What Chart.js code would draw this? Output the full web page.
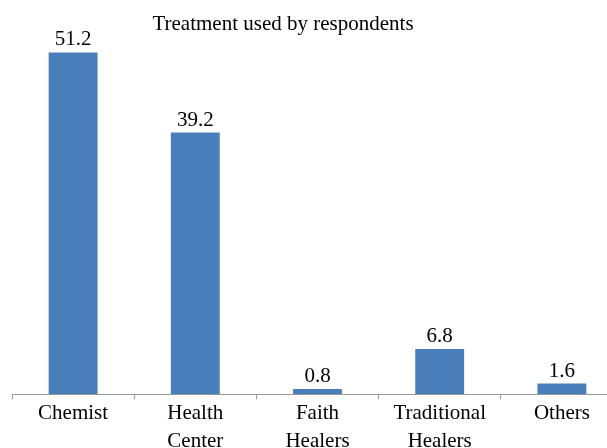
<!DOCTYPE html>
<html>
<head>
<meta charset="utf-8">
<script src="https://cdn.jsdelivr.net/npm/chart.js@4/dist/chart.umd.min.js"></script>
<style>
  html, body { margin: 0; padding: 0; background: #fff; overflow: hidden; }
  #wrap { position: relative; width: 624px; height: 456px; }
</style>
</head>
<body>
<div id="wrap"><canvas id="c"></canvas></div>
<script>
const titleText = 'Treatment used by respondents';
const categories = [['Chemist'], ['Health', 'Center'], ['Faith', 'Healers'], ['Traditional', 'Healers'], ['Others']];
const percentages = [51.2, 39.2, 0.8, 6.8, 1.6];

const serif = '"Liberation Serif", "Times New Roman", serif';
const barColor = '#4A7EBB';

// Value labels above each bar
const valueLabels = {
  id: 'valueLabels',
  afterDatasetsDraw(chart) {
    const ctx = chart.ctx;
    const meta = chart.getDatasetMeta(0);
    ctx.save();
    ctx.font = '21px ' + serif;
    ctx.fillStyle = '#000';
    ctx.textAlign = 'center';
    ctx.textBaseline = 'alphabetic';
    meta.data.forEach((bar, i) => {
      ctx.fillText(percentages[i].toFixed(1), bar.x, bar.y - 7);
    });
    ctx.restore();
  }
};

// Chart heading, placed left of centre
const heading = {
  id: 'heading',
  afterDraw(chart) {
    const ctx = chart.ctx;
    ctx.save();
    ctx.font = '21px ' + serif;
    ctx.fillStyle = '#000';
    ctx.textAlign = 'center';
    ctx.textBaseline = 'alphabetic';
    ctx.fillText(titleText, 283, 30);
    ctx.restore();
  }
};

new Chart(document.getElementById('c'), {
  type: 'bar',
  data: {
    labels: categories,
    datasets: [{
      data: percentages,
      backgroundColor: barColor,
      borderWidth: 0,
      categoryPercentage: 1,
      barPercentage: 0.4
    }]
  },
  options: {
    responsive: true,
    maintainAspectRatio: false,
    animation: false,
    events: [],
    layout: { padding: { left: 12, right: 1, top: 27, bottom: 0 } },
    plugins: {
      legend: { display: false },
      tooltip: { enabled: false },
      title: { display: false }
    },
    scales: {
      x: {
        offset: true,
        grid: {
          offset: true,
          drawOnChartArea: false,
          drawTicks: true,
          tickLength: 5,
          color: '#999999'
        },
        border: { display: true, color: '#999999', width: 1 },
        ticks: {
          color: '#000',
          font: { family: serif, size: 21, lineHeight: 1.35 },
          padding: 0,
          maxRotation: 0,
          autoSkip: false
        }
      },
      y: {
        display: false,
        min: 0,
        max: 55
      }
    }
  },
  plugins: [valueLabels, heading]
});
</script>
</body>
</html>
